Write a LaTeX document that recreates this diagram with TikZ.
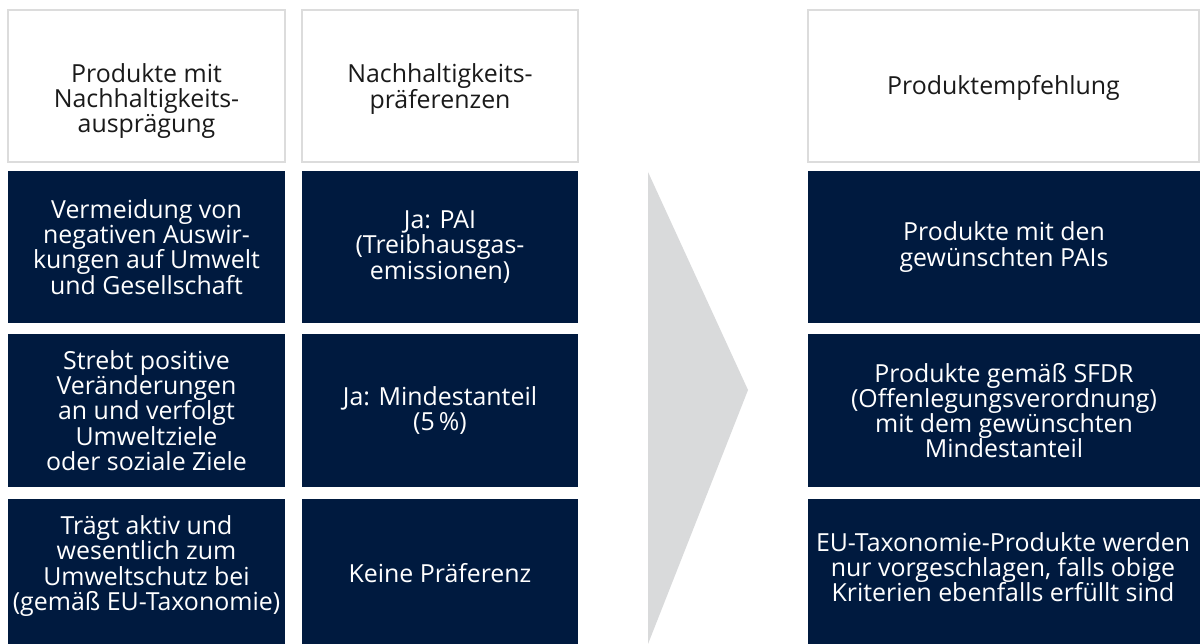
\documentclass[tikz,border=0pt]{standalone}
\usepackage{fontspec}
\setmainfont{Open Sans}
\definecolor{navy}{HTML}{001A3F}
\definecolor{hdrline}{HTML}{DCDCDC}
\definecolor{arrowgray}{HTML}{D9DADB}
\definecolor{hdrtext}{HTML}{1A1A1A}
\begin{document}
\begin{tikzpicture}[x=1pt,y=-1pt,
  box/.style={rectangle, inner sep=0pt, outer sep=0pt},
  hdrbox/.style={box, draw=hdrline, line width=1.3pt, fill=white},
  darkbox/.style={box, fill=navy},
  txt/.style={align=center, inner sep=0pt, font=\fontsize{24.9}{25.2}\selectfont},
  htxt/.style={txt, text=hdrtext},
  dtxt/.style={txt, text=white}]
\useasboundingbox (0,0) rectangle (1201,644);
\fill[white] (0,0) rectangle (1201,644);

% header boxes
\node[hdrbox, minimum width=277pt, minimum height=152pt] (h1) at (146.5,86) {};
\node[hdrbox, minimum width=276pt, minimum height=152pt] (h2) at (440,86) {};
\node[hdrbox, minimum width=391pt, minimum height=152pt] (h3) at (1003.5,86) {};

% dark boxes
\node[darkbox, minimum width=277pt, minimum height=152pt] (a1) at (146.5,247) {};
\node[darkbox, minimum width=276pt, minimum height=152pt] (b1) at (440,247) {};
\node[darkbox, minimum width=392pt, minimum height=152pt] (c1) at (1004,247) {};
\node[darkbox, minimum width=277pt, minimum height=153pt] (a2) at (146.5,410.5) {};
\node[darkbox, minimum width=276pt, minimum height=153pt] (b2) at (440,410.5) {};
\node[darkbox, minimum width=392pt, minimum height=153pt] (c2) at (1004,410.5) {};
\node[darkbox, minimum width=277pt, minimum height=146pt] (a3) at (146.5,572) {};
\node[darkbox, minimum width=276pt, minimum height=146pt] (b3) at (440,572) {};
\node[darkbox, minimum width=392pt, minimum height=146pt] (c3) at (1004,572) {};

% arrow
\fill[arrowgray] (648,172) -- (748,390) -- (648,644) -- cycle;

% header texts
\node[htxt] (th1) at (146.5,101) {Produkte mit\\Nachhaltigkeits-\\ausprägung};
\node[htxt] (th2) at (440,89) {Nachhaltigkeits-\\präferenzen};
\node[htxt] (th3) at (1003.5,88) {Produktempfehlung};

% row texts
\node[dtxt] (ta1) at (a1) {Vermeidung von\\negativen Auswir-\\kungen auf Umwelt\\und Gesellschaft};
\node[dtxt] (tb1) at (b1) {Ja: PAI\\(Treibhausgas-\\emissionen)};
\node[dtxt] (tc1) at (c1) {Produkte mit den\\gewünschten PAIs};
\node[dtxt] (ta2) at (a2) {Strebt positive\\Veränderungen\\an und verfolgt\\Umweltziele\\oder soziale Ziele};
\node[dtxt] (tb2) at (b2) {Ja: Mindestanteil\\(5\,\%)};
\node[dtxt] (tc2) at (c2) {Produkte gemäß SFDR\\(Offenlegungsverordnung)\\mit dem gewünschten\\Mindestanteil};
\node[dtxt] (ta3) at (146.5,566) {Trägt aktiv und\\wesentlich zum\\Umweltschutz bei\\(gemäß EU-Taxonomie)};
\node[dtxt] (tb3) at (440,573) {Keine Präferenz};
\node[dtxt] (tc3) at (1003,567) {EU-Taxonomie-Produkte werden\\nur vorgeschlagen, falls obige\\Kriterien ebenfalls erfüllt sind};
\end{tikzpicture}
\end{document}
